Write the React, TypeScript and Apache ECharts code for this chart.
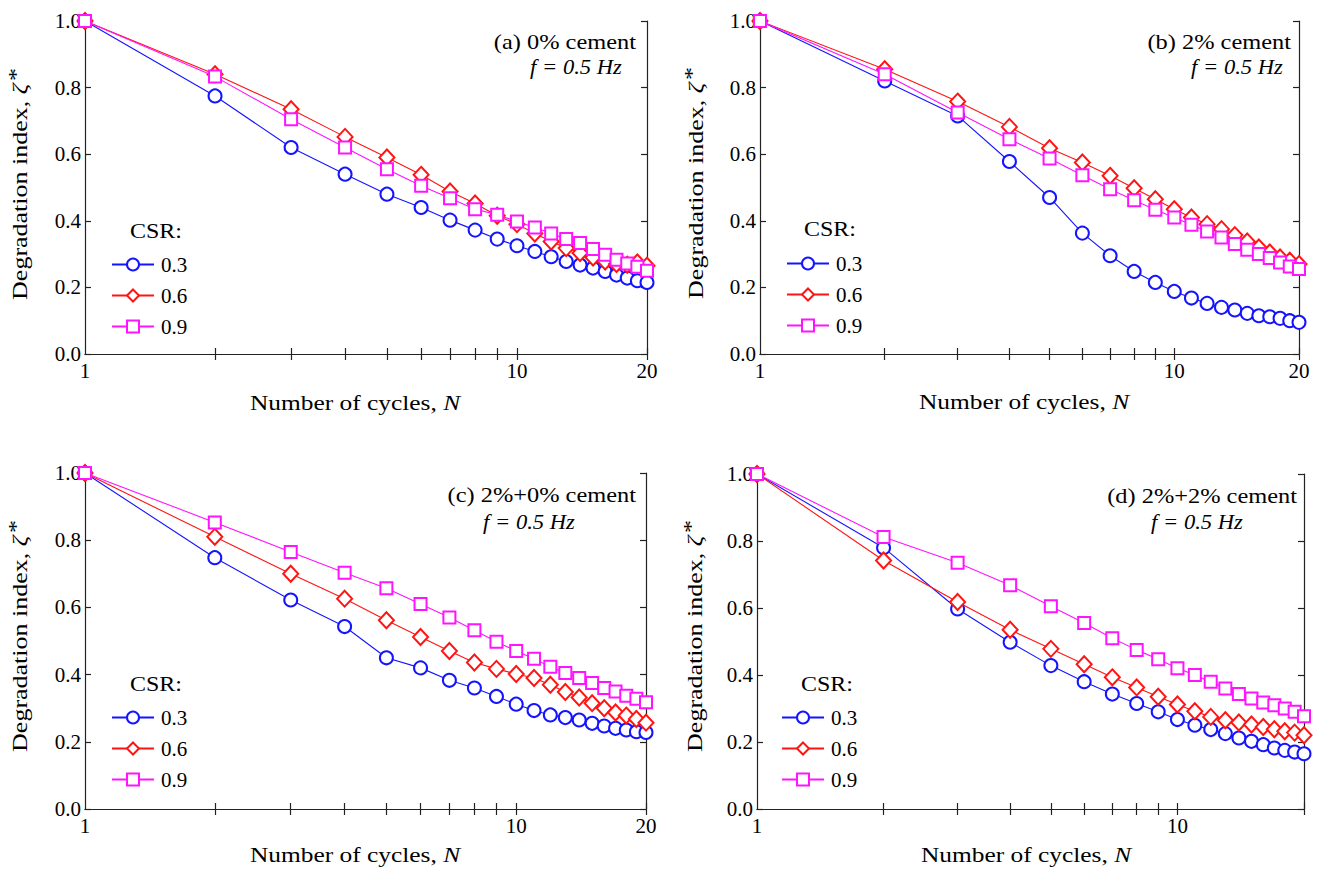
import React, { useEffect, useRef } from "react";
import * as echarts from "echarts";

const cycles = [1, 2, 3, 4, 5, 6, 7, 8, 9, 10, 11, 12, 13, 14, 15, 16, 17, 18, 19, 20];
const csrNames = ["0.3", "0.6", "0.9"];
const xTickValues = [2, 3, 4, 5, 6, 7, 8, 9, 10, 20];
const xLabelValues = [1, 10, 20];
const xLabelValuesD = [1, 10];

// (a) 0% cement
const a03 = [1.0, 0.775, 0.62, 0.54, 0.48, 0.44, 0.402, 0.372, 0.345, 0.325, 0.308, 0.292, 0.278, 0.267, 0.258, 0.248, 0.237, 0.228, 0.22, 0.215];
const a06 = [1.0, 0.84, 0.735, 0.652, 0.59, 0.538, 0.488, 0.452, 0.415, 0.39, 0.362, 0.338, 0.318, 0.303, 0.29, 0.278, 0.27, 0.268, 0.275, 0.265];
const a09 = [1.0, 0.833, 0.705, 0.62, 0.555, 0.505, 0.468, 0.435, 0.418, 0.398, 0.38, 0.362, 0.345, 0.333, 0.315, 0.298, 0.283, 0.272, 0.262, 0.25];
// (b) 2% cement
const b03 = [1.0, 0.82, 0.715, 0.578, 0.47, 0.363, 0.295, 0.248, 0.215, 0.188, 0.168, 0.152, 0.14, 0.132, 0.122, 0.115, 0.112, 0.107, 0.1, 0.095];
const b06 = [1.0, 0.855, 0.758, 0.682, 0.618, 0.575, 0.535, 0.498, 0.465, 0.435, 0.41, 0.39, 0.375, 0.357, 0.338, 0.32, 0.305, 0.29, 0.28, 0.27];
const b09 = [1.0, 0.84, 0.725, 0.645, 0.587, 0.537, 0.495, 0.462, 0.433, 0.41, 0.388, 0.368, 0.35, 0.33, 0.313, 0.3, 0.288, 0.275, 0.263, 0.255];
// (c) 2%+0% cement
const c03 = [1.0, 0.748, 0.622, 0.543, 0.45, 0.42, 0.383, 0.36, 0.335, 0.312, 0.293, 0.28, 0.272, 0.265, 0.255, 0.247, 0.24, 0.235, 0.23, 0.228];
const c06 = [1.0, 0.81, 0.7, 0.626, 0.562, 0.512, 0.47, 0.436, 0.417, 0.402, 0.39, 0.37, 0.348, 0.332, 0.315, 0.3, 0.287, 0.278, 0.268, 0.257];
const c09 = [1.0, 0.853, 0.765, 0.703, 0.657, 0.61, 0.57, 0.532, 0.498, 0.47, 0.447, 0.423, 0.405, 0.39, 0.375, 0.36, 0.35, 0.337, 0.328, 0.318];
// (d) 2%+2% cement
const d03 = [1.0, 0.78, 0.597, 0.498, 0.428, 0.38, 0.343, 0.315, 0.29, 0.267, 0.25, 0.237, 0.225, 0.212, 0.202, 0.192, 0.182, 0.175, 0.17, 0.165];
const d06 = [1.0, 0.742, 0.618, 0.535, 0.478, 0.432, 0.393, 0.363, 0.335, 0.312, 0.292, 0.275, 0.265, 0.258, 0.252, 0.245, 0.238, 0.232, 0.228, 0.22];
const d09 = [1.0, 0.812, 0.735, 0.668, 0.605, 0.555, 0.51, 0.475, 0.447, 0.42, 0.4, 0.38, 0.36, 0.343, 0.33, 0.318, 0.31, 0.3, 0.29, 0.277];

const panelTitles = ["(a) 0% cement", "(b) 2% cement", "(c) 2%+0% cement", "(d) 2%+2% cement"];
const freqText = "f = 0.5 Hz";
const legendTitle = "CSR:";
const yName = "{n|Degradation index, }{z|ζ}{s|*}";
const xName = "{n|Number of cycles, }{i|N}";

const panelData = [
  [a03, a06, a09],
  [b03, b06, b09],
  [c03, c06, c09],
  [d03, d06, d09],
];

const FONT = '"Liberation Serif", "Times New Roman", serif';
const colors = ["#1414ff", "#ff1414", "#ff14ff"];
const symbols = ["emptyCircle", "emptyDiamond", "emptyRect"];
const symbolSizes: any[] = [13, [15, 16], 12];

const grids = [
  { left: 85, top: 21, width: 562, height: 333 },
  { left: 760, top: 21, width: 539, height: 333 },
  { left: 85, top: 473, width: 561, height: 336 },
  { left: 757, top: 474, width: 547, height: 335 },
];
const legendPos = [
  { left: 111, top: 254 },
  { left: 786, top: 253 },
  { left: 111, top: 707 },
  { left: 781, top: 707 },
];
const csrPos = [
  [130, 231],
  [804, 229],
  [130, 684],
  [801, 684],
];
const titlePos = [
  [636, 42],
  [1291, 42],
  [636, 495],
  [1297, 496],
];
const freqPos = [
  [576, 67],
  [1237, 67],
  [529, 522],
  [1197, 522],
];
const yNamePos = [
  [20, 184],
  [696, 183],
  [20, 636],
  [695, 636],
];
const xNamePos = [
  [355, 403],
  [1024, 402],
  [355, 855],
  [1026, 855],
];

const richName = {
  n: { fontFamily: FONT, fontSize: 20, fill: "#000" },
  z: { fontFamily: FONT, fontSize: 20, fill: "#000", fontStyle: "italic" },
  i: { fontFamily: FONT, fontSize: 20, fill: "#000", fontStyle: "italic" },
  s: { fontFamily: FONT, fontSize: 20, fill: "#000", padding: [0, 0, 8, 2] },
};

export default function App() {
  const ref = useRef<HTMLDivElement>(null);
  useEffect(() => {
    if (!ref.current) return;
    const chart = echarts.init(ref.current, undefined, { renderer: "svg" });
    const axisLineStyle = { color: "#222", width: 1.2 };
    const xAxes: any[] = [];
    const yAxes: any[] = [];
    const series: any[] = [];
    const legends: any[] = [];
    const graphics: any[] = [];

    grids.forEach((g, i) => {
      xAxes.push({
        type: "log",
        logBase: 10,
        gridIndex: i,
        min: 1,
        max: 20,
        position: "bottom",
        axisLine: { show: true, lineStyle: axisLineStyle },
        axisTick: { show: true, inside: true, length: 6, lineStyle: axisLineStyle, customValues: xTickValues },
        axisLabel: {
          show: true,
          customValues: i === 3 ? xLabelValuesD : xLabelValues,
          formatter: (v: number) => String(Math.round(v)),
          fontFamily: FONT,
          fontSize: 21,
          color: "#000",
          margin: 6,
        },
        splitLine: { show: false },
        minorTick: { show: false },
      });
      xAxes.push({
        type: "log",
        logBase: 10,
        gridIndex: i,
        min: 1,
        max: 20,
        position: "top",
        axisLine: { show: true, lineStyle: axisLineStyle },
        axisTick: { show: true, inside: true, length: 6, lineStyle: axisLineStyle, customValues: xTickValues },
        axisLabel: { show: false },
        splitLine: { show: false },
      });
      yAxes.push({
        type: "value",
        gridIndex: i,
        min: 0,
        max: 1,
        interval: 0.2,
        position: "left",
        axisLine: { show: true, lineStyle: axisLineStyle },
        axisTick: { show: true, inside: true, length: 6, lineStyle: axisLineStyle },
        axisLabel: {
          formatter: (v: number) => v.toFixed(1),
          fontFamily: FONT,
          fontSize: 21,
          color: "#000",
          margin: 4,
        },
        splitLine: { show: false },
      });
      yAxes.push({
        type: "value",
        gridIndex: i,
        min: 0,
        max: 1,
        interval: 0.2,
        position: "right",
        axisLine: { show: true, lineStyle: axisLineStyle },
        axisTick: { show: true, inside: true, length: 6, lineStyle: axisLineStyle },
        axisLabel: { show: false },
        splitLine: { show: false },
      });

      panelData[i].forEach((vals, k) => {
        series.push({
          type: "line",
          name: csrNames[k],
          xAxisIndex: i * 2,
          yAxisIndex: i * 2,
          data: cycles.map((n, j) => [n, vals[j]]),
          symbol: symbols[k],
          symbolSize: symbolSizes[k],
          showAllSymbol: true,
          clip: false,
          lineStyle: { color: colors[k], width: 1.1 },
          itemStyle: { color: colors[k], borderWidth: 1.3 },
          z: 2 + k,
        });
      });

      legends.push({
        orient: "vertical",
        left: legendPos[i].left,
        top: legendPos[i].top,
        padding: 0,
        itemWidth: 42,
        itemHeight: 15,
        itemGap: 10,
        selectedMode: false,
        data: csrNames,
        textStyle: { fontFamily: FONT, fontSize: 21, color: "#000", lineHeight: 20, padding: [0, 0, 0, 2] },
      });

      graphics.push({
        type: "text",
        x: csrPos[i][0],
        y: csrPos[i][1],
        scaleX: 1.2,
        style: { text: legendTitle, font: `20px ${FONT}`, fill: "#000", align: "left", verticalAlign: "middle" },
      });
      graphics.push({
        type: "text",
        x: titlePos[i][0],
        y: titlePos[i][1],
        scaleX: 1.22,
        style: { text: panelTitles[i], font: `20px ${FONT}`, fill: "#000", align: "right", verticalAlign: "middle" },
      });
      graphics.push({
        type: "text",
        x: freqPos[i][0],
        y: freqPos[i][1],
        scaleX: 1.13,
        style: { text: freqText, font: `italic 20px ${FONT}`, fill: "#000", align: "center", verticalAlign: "middle" },
      });
      graphics.push({
        type: "text",
        x: yNamePos[i][0],
        y: yNamePos[i][1],
        rotation: Math.PI / 2,
        scaleX: 1.3,
        style: { text: yName, rich: richName, font: `20px ${FONT}`, fill: "#000", align: "center", verticalAlign: "middle" },
      });
      graphics.push({
        type: "text",
        x: xNamePos[i][0],
        y: xNamePos[i][1],
        scaleX: 1.27,
        style: { text: xName, rich: richName, font: `20px ${FONT}`, fill: "#000", align: "center", verticalAlign: "middle" },
      });
    });

    chart.setOption({
      animation: false,
      backgroundColor: "#fff",
      grid: grids,
      xAxis: xAxes,
      yAxis: yAxes,
      legend: legends,
      series,
      graphic: graphics,
    });
    return () => chart.dispose();
  }, []);

  return (
    <div
      ref={ref}
      style={{ position: "absolute", left: 0, top: 0, width: 1317, height: 871, background: "#fff" }}
    />
  );
}
